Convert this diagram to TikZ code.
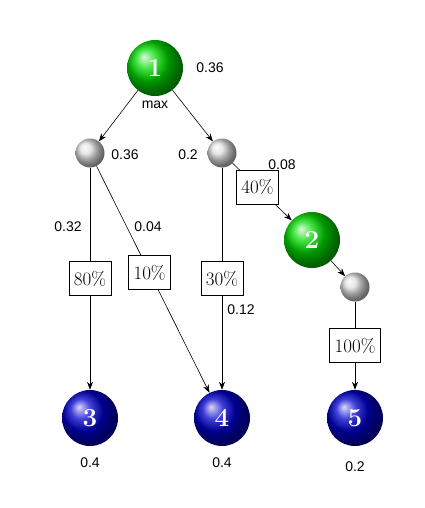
\documentclass[tikz,border=0pt]{standalone}
\usepackage{fontspec}
\usetikzlibrary{arrows.meta}
\newfontfamily\sans{Liberation Sans}
\begin{document}
\begin{tikzpicture}[x=1pt,y=-1pt,
 big/.style={circle,minimum size=56pt,inner sep=0pt,text=white,font=\bfseries\fontsize{26}{26}\selectfont},
 gr/.style={big,ball color=green!85!black},
 bl/.style={big,ball color=blue!80!black},
 sm/.style={circle,minimum size=29pt,inner sep=0pt,ball color=gray!25},
 pb/.style={draw,fill=white,font=\fontsize{19}{19}\selectfont,inner sep=5pt,minimum height=34pt},
 lb/.style={font=\sans\fontsize{14}{14}\selectfont},
 arr/.style={-{Stealth[length=8pt]},semithick}]
\useasboundingbox (0,0) rectangle (424,508);
\node[gr] (n1) at (155,68) {1};
\node[sm] (g1) at (90,153) {};
\node[sm] (g2) at (222,153) {};
\node[gr] (n2) at (312,240) {2};
\node[sm] (g3) at (355,287) {};
\node[bl] (n3) at (90,418) {3};
\node[bl] (n4) at (222,418) {4};
\node[bl] (n5) at (355,418) {5};
\draw[arr] (n1) -- (g1);
\draw[arr] (n1) -- (g2);
\draw[arr] (g1) -- (n3) node[pb,pos=0.5] (b80) {80\%};
\draw[arr] (g1) -- (n4) node[pb,pos=0.47] (b10) {10\%};
\draw[arr] (g2) -- (n4) node[pb,pos=0.5] (b30) {30\%};
\draw[arr] (g2) -- (n2) node[pb,pos=0.42] (b40) {40\%};
\draw[arr] (n2) -- (g3);
\draw[arr] (g3) -- (n5) node[pb,pos=0.5] (b100) {100\%};
\node[lb] (l1) at (210,68) {0.36};
\node[lb] (l2) at (155,105) {max};
\node[lb] (l3) at (125,155) {0.36};
\node[lb] (l4) at (188,155) {0.2};
\node[lb] (l5) at (282,165) {0.08};
\node[lb] (l6) at (68,227) {0.32};
\node[lb] (l7) at (148,227) {0.04};
\node[lb] (l8) at (241,310) {0.12};
\node[lb] (l9) at (90,463) {0.4};
\node[lb] (l10) at (222,463) {0.4};
\node[lb] (l11) at (355,467) {0.2};
\end{tikzpicture}
\end{document}
